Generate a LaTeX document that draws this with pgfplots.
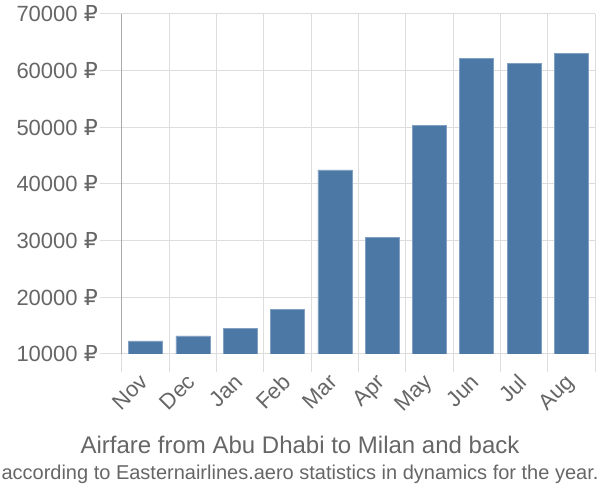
\documentclass[border=0pt]{standalone}
\usepackage{pgfplots}
\pgfplotsset{compat=1.18}
\usepackage{fontspec}
\setmainfont{Liberation Sans}
\newfontfamily\rub{DejaVu Sans}
\definecolor{barc}{RGB}{76,120,166}
\definecolor{txt}{RGB}{102,102,102}
\definecolor{grd}{RGB}{221,221,221}
\definecolor{axl}{RGB}{170,170,170}
\begin{document}
\begin{tikzpicture}[x=1pt,y=1pt]
\path[use as bounding box] (0,0) rectangle (600,500);
\begin{axis}[at={(122pt,146pt)}, anchor=south west, scale only axis,
  width=473pt, height=340pt,
  xmin=-0.5, xmax=9.5, ymin=10000, ymax=70000,
  scaled y ticks=false,
  axis y line*=left, axis x line*=bottom,
  x axis line style={draw=none}, y axis line style={draw=axl, line width=1pt, -},
  ytick={10000,20000,...,70000},
  yticklabels={{10000 {\rub ₽}},{20000 {\rub ₽}},{30000 {\rub ₽}},{40000 {\rub ₽}},{50000 {\rub ₽}},{60000 {\rub ₽}},{70000 {\rub ₽}}},
  xtick={0,...,9},
  xticklabels={Nov,Dec,Jan,Feb,Mar,Apr,May,Jun,Jul,Aug},
  minor xtick={-0.5,0.5,...,9.5},
  tick align=outside,
  major tick length=22pt, minor tick length=18pt,
  major x tick style={draw=none},
  y tick style={draw=grd, line width=1pt},
  minor x tick style={draw=grd, line width=1pt},
  ymajorgrids, xminorgrids,
  major grid style={draw=grd, line width=1pt},
  minor grid style={draw=grd, line width=1pt},
  tick label style={font=\fontsize{22}{26}\selectfont, text=txt},
  yticklabel style={inner sep=2pt},
  xticklabel style={xshift=-7pt, yshift=5pt, rotate=45, anchor=north east, inner sep=1pt},
  ybar, bar width=34pt,
]
\addplot[fill=barc, draw=barc!70!white, line width=0.6pt] coordinates {
 (0,12300) (1,13200) (2,14500) (3,17800) (4,42500) (5,30600) (6,50300) (7,62100) (8,61300) (9,63000)};
\end{axis}
\node[text=txt, font=\fontsize{24}{28}\selectfont] at (300,55) {Airfare from Abu Dhabi to Milan and back};
\node[text=txt, font=\fontsize{20}{24}\selectfont] at (300,26) {according to Easternairlines.aero statistics in dynamics for the year.};
\end{tikzpicture}
\end{document}
